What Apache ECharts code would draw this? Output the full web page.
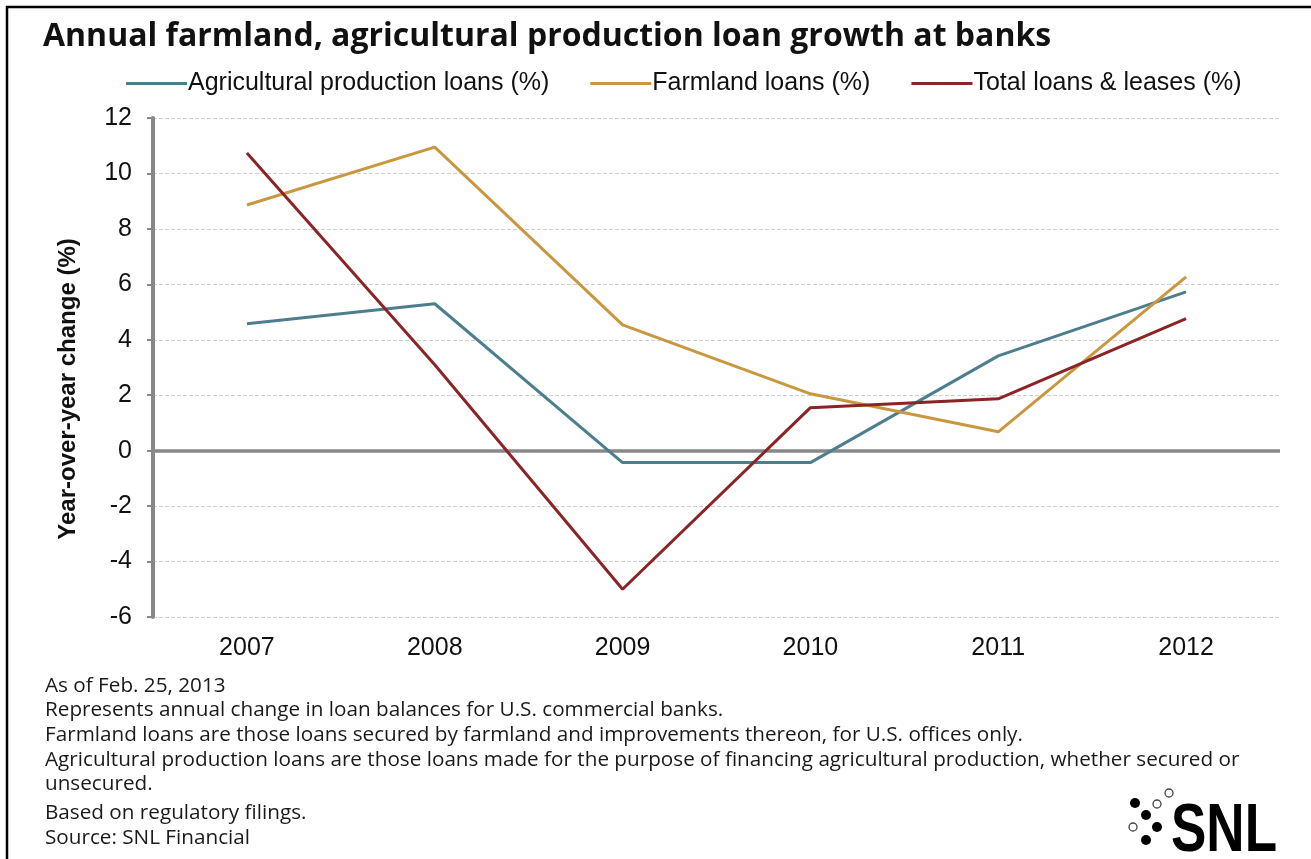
<!DOCTYPE html>
<html>
<head>
<meta charset="utf-8">
<script src="https://cdn.jsdelivr.net/npm/echarts@6/dist/echarts.min.js"></script>
<style>
  html, body { margin: 0; padding: 0; background: #ffffff; }
  #chart { width: 1311px; height: 859px; }
</style>
</head>
<body>
<div id="chart"></div>
<script>
// Years on the category axis
const years = ['2007', '2008', '2009', '2010', '2011', '2012'];

// Year-over-year change in loan balances (%)
const agProduction = [4.58, 5.30, -0.43, -0.43, 3.42, 5.73];
const farmland = [8.86, 10.95, 4.54, 2.05, 0.68, 6.27];
const totalLoans = [10.74, 3.10, -5.00, 1.55, 1.87, 4.76];

const seriesNames = [
  'Agricultural production loans (%)',
  'Farmland loans (%)',
  'Total loans & leases (%)'
];

// Value-axis range and step
const yMin = -6, yMax = 12, yStep = 2;

const titleText = 'Annual farmland, agricultural production loan growth at banks';
const yAxisTitle = 'Year-over-year change (%)';
const notes = [
  'As of Feb. 25, 2013',
  'Represents annual change in loan balances for U.S. commercial banks.',
  'Farmland loans are those loans secured by farmland and improvements thereon, for U.S. offices only.',
  'Agricultural production loans are those loans made for the purpose of financing agricultural production, whether secured or',
  'unsecured.',
  'Based on regulatory filings.',
  'Source: SNL Financial'
];

const colors = ['#4d7e8e', '#c9973f', '#8b2426'];
const sansFont = '"Liberation Sans", Arial, sans-serif';
const noteFont = '"Open Sans", "Noto Sans", sans-serif';

const chart = echarts.init(document.getElementById('chart'), null, { renderer: 'canvas' });

function lineSeries(name, data, color) {
  return {
    name: name,
    type: 'line',
    data: data,
    symbol: 'none',
    lineStyle: { color: color, width: 3 },
    itemStyle: { color: color },
    z: 3
  };
}

// footnote block below the plot
const noteY = [686, 710, 735, 760, 784, 813, 838];
const noteGraphics = notes.map((t, i) => ({
  type: 'text',
  x: 45,
  y: noteY[i],
  style: { text: t, font: '20.7px ' + noteFont, fill: '#1a1a1a', verticalAlign: 'middle' }
}));

// SNL logo: dot cluster plus wordmark
const dots = [
  { x: 1135, y: 803, r: 5, fill: true },
  { x: 1146, y: 815, r: 5, fill: true },
  { x: 1157, y: 827, r: 5, fill: true },
  { x: 1146, y: 840, r: 5, fill: true },
  { x: 1133, y: 827, r: 4, fill: false },
  { x: 1157, y: 804, r: 4, fill: false },
  { x: 1169, y: 793, r: 4, fill: false }
];
const logoGraphics = dots.map(d => ({
  type: 'circle',
  shape: { cx: d.x, cy: d.y, r: d.r },
  style: d.fill ? { fill: '#000' } : { fill: '#fff', stroke: '#444', lineWidth: 1.3 }
}));
logoGraphics.push({
  type: 'text',
  x: 1171,
  y: 832,
  scaleY: 1.3,
  style: {
    text: 'SNL',
    font: 'bold 53px "Liberation Sans", Arial, sans-serif',
    fill: '#000',
    verticalAlign: 'middle'
  }
});

chart.setOption({
  animation: false,
  backgroundColor: '#ffffff',
  color: colors,
  title: {
    text: titleText,
    left: 38,
    top: 16,
    textStyle: {
      fontFamily: '"Open Sans", "Noto Sans", sans-serif',
      fontWeight: 'bold',
      fontSize: 32,
      color: '#111'
    }
  },
  legend: {
    data: seriesNames,
    left: 121,
    top: 66,
    itemWidth: 61,
    itemHeight: 3,
    itemGap: 41,
    icon: 'rect',
    textStyle: {
      fontFamily: sansFont,
      fontSize: 25,
      color: '#111',
      padding: [0, 0, 0, -4]
    }
  },
  grid: { left: 153, right: 31, top: 118, bottom: 242, containLabel: false },
  xAxis: {
    type: 'category',
    data: years,
    boundaryGap: true,
    axisLine: { show: false },
    axisTick: { show: false },
    axisLabel: {
      fontFamily: sansFont,
      fontSize: 25,
      color: '#111',
      margin: 19
    }
  },
  yAxis: {
    type: 'value',
    min: yMin,
    max: yMax,
    interval: yStep,
    axisLine: { show: true, lineStyle: { color: '#888', width: 4 } },
    axisTick: { show: true, length: 6, lineStyle: { color: '#888', width: 2 } },
    axisLabel: {
      fontFamily: sansFont,
      fontSize: 25,
      color: '#111',
      margin: 21
    },
    splitLine: { show: true, lineStyle: { color: '#cfcfcf', type: [4, 2], width: 1.2 } }
  },
  series: [
    Object.assign(lineSeries(seriesNames[0], agProduction, colors[0]), {
      markLine: {
        silent: true,
        symbol: 'none',
        label: { show: false },
        lineStyle: { color: '#888', width: 3.5, type: 'solid' },
        data: [{ yAxis: 0 }],
        z: 1
      }
    }),
    lineSeries(seriesNames[1], farmland, colors[1]),
    lineSeries(seriesNames[2], totalLoans, colors[2])
  ],
  graphic: [
    // frame along top and left edges
    { type: 'line', shape: { x1: 6, y1: 7, x2: 1311, y2: 7 }, style: { stroke: '#000', lineWidth: 2.5 } },
    { type: 'line', shape: { x1: 7, y1: 6, x2: 7, y2: 859 }, style: { stroke: '#000', lineWidth: 2.5 } },
    {
      type: 'text',
      x: 68,
      y: 389,
      rotation: Math.PI / 2,
      style: {
        text: yAxisTitle,
        font: 'bold 24px "Liberation Sans", Arial, sans-serif',
        fill: '#111',
        align: 'center',
        verticalAlign: 'middle'
      }
    }
  ].concat(noteGraphics, logoGraphics)
});
</script>
</body>
</html>
